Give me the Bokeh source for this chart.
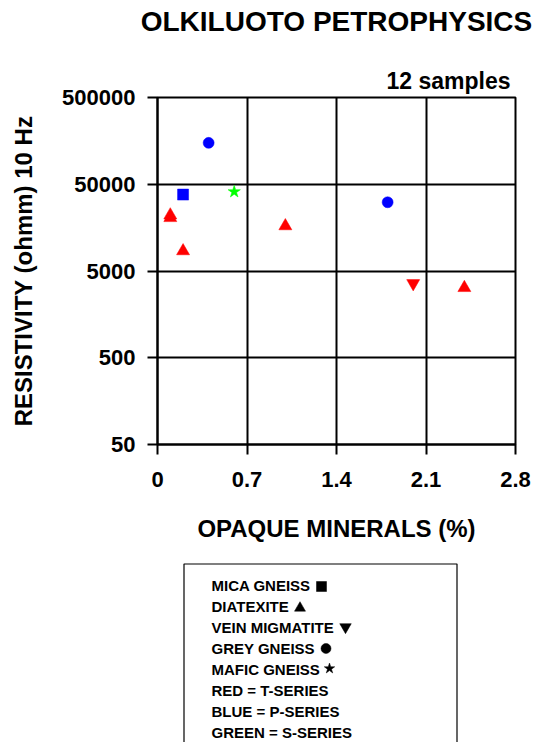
from bokeh.plotting import figure
from bokeh.models import (ColumnDataSource, Range1d, FixedTicker, CustomJSTickFormatter,
                          Title)
from bokeh.layouts import column
from bokeh.core.properties import value
from bokeh.embed import file_html
from bokeh.resources import INLINE

# ---------------- data ----------------
rock_type = ["MICA GNEISS", "DIATEXITE", "DIATEXITE", "DIATEXITE", "DIATEXITE",
             "VEIN MIGMATITE", "DIATEXITE", "GREY GNEISS", "GREY GNEISS", "MAFIC GNEISS"]
series = ["P", "T", "T", "T", "T", "T", "T", "P", "P", "S"]
opaque_pct = [0.2, 0.1, 0.1, 0.2, 1.0, 2.0, 2.4, 0.4, 1.8, 0.6]
resistivity = [38000, 22000, 20500, 8500, 16500, 3600, 3200, 150000, 31000, 41000]

x_ticks = [0, 0.7, 1.4, 2.1, 2.8]
y_ticks = [50, 500, 5000, 50000, 500000]

legend_lines = ["MICA GNEISS", "DIATEXITE", "VEIN MIGMATITE", "GREY GNEISS",
                "MAFIC GNEISS", "RED = T-SERIES", "BLUE = P-SERIES", "GREEN = S-SERIES"]
legend_rocks = ["MICA GNEISS", "DIATEXITE", "VEIN MIGMATITE", "GREY GNEISS", "MAFIC GNEISS"]

title_text = "OLKILUOTO PETROPHYSICS"
count_text = "12 samples"
x_label = "OPAQUE MINERALS (%)"
y_label = "RESISTIVITY (ohmm) 10 Hz"

# ---------------- styles ----------------
marker_of = {"MICA GNEISS": "square", "DIATEXITE": "triangle",
             "VEIN MIGMATITE": "inverted_triangle", "GREY GNEISS": "circle",
             "MAFIC GNEISS": "star"}
size_of = {"square": 11, "triangle": 13, "inverted_triangle": 13, "circle": 11, "star": 13}
legend_size_of = {"square": 10, "triangle": 11, "inverted_triangle": 11.5, "circle": 10, "star": 11}
color_of = {"T": "#FF0000", "P": "#0000FF", "S": "#00FF00"}

FONT = "Liberation Sans"
BL, BR, BT, BB = 157, 40, 97, 111   # borders of the main plot

markers = [marker_of[r] for r in rock_type]
src = ColumnDataSource(dict(
    x=opaque_pct, y=resistivity,
    marker=markers,
    size=[size_of[m] for m in markers],
    color=[color_of[s] for s in series],
))

W, H1, H2 = 555, 555, 187
p = figure(width=W, height=H1, y_axis_type="log",
           x_range=Range1d(0, 2.8), y_range=Range1d(50, 500000),
           output_backend="svg", toolbar_location=None,
           min_border_left=BL, min_border_right=BR,
           min_border_top=BT, min_border_bottom=BB,
           title=title_text)
p.outline_line_color = "black"
p.outline_line_width = 2
p.background_fill_color = "white"
p.border_fill_color = "white"

# main title (farthest from the frame)
p.title.align = "center"
p.title.standoff = 0
p.title.text_font = FONT
p.title.text_font_style = "bold"
p.title.text_font_size = "28px"
p.title.text_color = "black"

# sample count (nearest the frame)
p.add_layout(Title(text=count_text, align="right", offset=5, standoff=8,
                   text_font=FONT, text_font_style="bold",
                   text_font_size="23px", text_color="black"), "above")

# spacer between the two titles
p.add_layout(Title(text=" ", standoff=0, text_font=FONT, text_font_size="21px"), "above")

p.scatter("x", "y", source=src, marker="marker", size="size",
          fill_color="color", line_color="color", line_width=0.5)

for ax in (p.xaxis[0], p.yaxis[0]):
    ax.axis_line_color = "black"
    ax.axis_line_width = 2
    ax.major_tick_line_color = "black"
    ax.major_tick_line_width = 2
    ax.major_tick_out = 10
    ax.major_tick_in = 0
    ax.minor_tick_line_color = None
    ax.major_label_text_font = FONT
    ax.major_label_text_font_style = "bold"
    ax.major_label_text_font_size = "22px"
    ax.major_label_text_color = "black"
    ax.axis_label_text_font = FONT
    ax.axis_label_text_font_style = "bold"
    ax.axis_label_text_font_size = "24px"
    ax.axis_label_text_color = "black"
    ax.formatter = CustomJSTickFormatter(code="return String(tick);")

p.xaxis[0].ticker = FixedTicker(ticks=x_ticks)
p.yaxis[0].ticker = FixedTicker(ticks=y_ticks)
p.xaxis[0].major_label_standoff = 17
p.yaxis[0].major_label_standoff = 12
p.xaxis[0].axis_label = x_label
p.yaxis[0].axis_label = y_label
p.xaxis[0].axis_label_standoff = 25
p.yaxis[0].axis_label_standoff = 22

for g in (p.xgrid[0], p.ygrid[0]):
    g.grid_line_color = "black"
    g.grid_line_width = 2
    g.minor_grid_line_color = None
p.xgrid[0].ticker = FixedTicker(ticks=x_ticks)
p.ygrid[0].ticker = FixedTicker(ticks=y_ticks)

# ---------------- legend panel (frame aligned with main plot, data = pixels) ----------------
q = figure(width=W, height=H2, x_range=Range1d(BL, W - BR), y_range=Range1d(H2, 0),
           output_backend="svg", toolbar_location=None,
           x_axis_location=None, y_axis_location=None,
           min_border_left=BL, min_border_right=BR, min_border_top=0, min_border_bottom=0)
q.outline_line_color = None
q.grid.visible = False
q.background_fill_color = "white"
q.border_fill_color = "white"

q.quad(left=[183.5], right=[456.5], top=[8.5], bottom=[H2 + 10],
       fill_color="white", line_color="black", line_width=1.2)

line_y = [30 + i * 21 for i in range(len(legend_lines))]
q.text(x=[211] * len(legend_lines), y=line_y, text=legend_lines,
       text_font=value(FONT), text_font_style="bold", text_font_size="15px",
       text_baseline="middle", text_align="left", text_color="black")

# legend symbols placed after each rock-type label (screen layout positions)
sym_x = [321, 299.5, 345, 325.5, 329]
sym_dy = [1, 1.5, -0.5, 0, -1]
leg_markers = [marker_of[r] for r in legend_rocks]
q.scatter(x=sym_x, y=[line_y[i] + sym_dy[i] for i in range(len(legend_rocks))],
          marker=leg_markers, size=[legend_size_of[m] for m in leg_markers],
          fill_color="black", line_color="black", line_width=0.5)

layout = column(p, q, spacing=0)
open("out.html", "w").write(file_html(layout, INLINE))
